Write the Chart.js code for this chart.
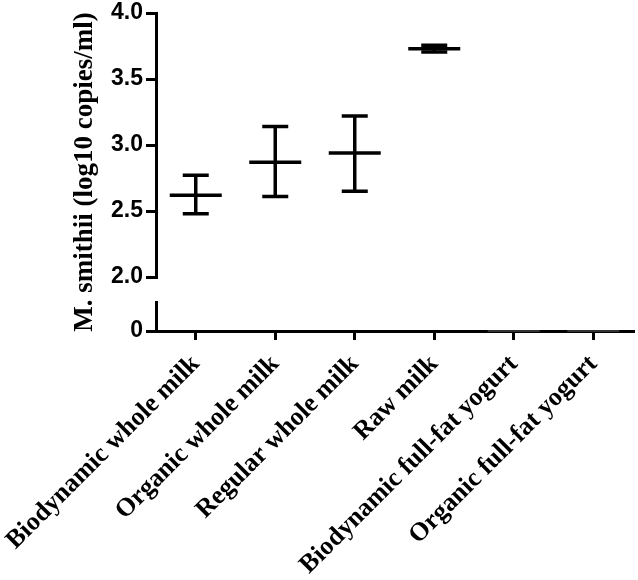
<!DOCTYPE html>
<html>
<head>
<meta charset="utf-8">
<script src="https://cdn.jsdelivr.net/npm/chart.js@4"></script>
<style>
  body { margin: 0; background: #fff; }
  #wrap { width: 638px; height: 580px; position: relative; }
</style>
</head>
<body>
<div id="wrap"><canvas id="chart"></canvas></div>
<script>
// categories on the x axis
const categories = [
  'Biodynamic whole milk',
  'Organic whole milk',
  'Regular whole milk',
  'Raw milk',
  'Biodynamic full-fat yogurt',
  'Organic full-fat yogurt',
];
// mean and error bar ends (log10 copies/ml)
const meanValues = [2.62, 2.87, 2.94, 3.73, 0, 0];
const upperValues = [2.77, 3.14, 3.22, 3.755, 0, 0];
const lowerValues = [2.48, 2.61, 2.65, 3.705, 0, 0];

// broken axis: upper segment and lower segment
const upperRange = [2, 4];
const lowerRange = [0, 1];
const upperTickStep = 0.5;

const black = '#000';
Chart.defaults.color = black;

// values above the break go on the upper axis, the rest on the lower one
function pick(arr, top) {
  return arr.map((v, i) => (meanValues[i] >= upperRange[0]) === top ? v : null);
}

const errorBars = {
  id: 'errorBars',
  afterDatasetsDraw(chart) {
    const ctx = chart.ctx;
    chart.data.datasets.forEach((ds, i) => {
      const meta = chart.getDatasetMeta(i);
      const yScale = chart.scales[ds.yAxisID];
      meta.data.forEach((pt, j) => {
        if (ds.data[j] == null) return;
        const x = pt.x;
        const yHi = yScale.getPixelForValue(ds.upper[j]);
        const yLo = yScale.getPixelForValue(ds.lower[j]);
        if (Math.abs(yHi - yLo) < 0.5) return;
        ctx.save();
        ctx.strokeStyle = black;
        ctx.lineWidth = 3.5;
        ctx.lineCap = 'butt';
        ctx.beginPath();
        ctx.moveTo(x, yHi);
        ctx.lineTo(x, yLo);
        ctx.moveTo(x - 13, yHi);
        ctx.lineTo(x + 13, yHi);
        ctx.moveTo(x - 13, yLo);
        ctx.lineTo(x + 13, yLo);
        ctx.stroke();
        ctx.restore();
      });
    });
  }
};

const tickFont = { family: 'Liberation Sans', weight: 'bold', size: 23 };
const labelFont = { family: 'Liberation Serif', weight: 'bold', size: 26 };
const titleFont = { family: 'Liberation Serif', weight: 'bold', size: 27 };

function axisGrid() {
  return {
    display: true,
    drawOnChartArea: false,
    drawTicks: true,
    tickLength: 10,
    lineWidth: 3,
    color: black,
  };
}

const ctx = document.getElementById('chart').getContext('2d');
const chart = new Chart(ctx, {
  type: 'line',
  data: {
    labels: categories,
    datasets: [
      {
        data: pick(meanValues, true),
        upper: pick(upperValues, true),
        lower: pick(lowerValues, true),
        yAxisID: 'y',
        showLine: false,
        pointStyle: 'line',
        pointRadius: 26,
        pointHoverRadius: 26,
        pointBorderWidth: 3.5,
        pointHoverBorderWidth: 3.5,
        borderColor: black,
        backgroundColor: black,
        clip: false,
      },
      {
        data: pick(meanValues, false),
        upper: pick(upperValues, false),
        lower: pick(lowerValues, false),
        yAxisID: 'y0',
        showLine: false,
        pointStyle: 'line',
        pointRadius: 26,
        pointHoverRadius: 26,
        pointBorderWidth: 2,
        pointHoverBorderWidth: 2,
        borderColor: '#333',
        backgroundColor: '#333',
        clip: false,
      },
    ],
  },
  options: {
    responsive: true,
    maintainAspectRatio: false,
    animation: false,
    events: [],
    layout: { autoPadding: false, padding: { top: 0, right: 5, bottom: 0, left: 0 } },
    plugins: {
      legend: { display: false },
      tooltip: { enabled: false },
    },
    scales: {
      x: {
        type: 'category',
        offset: true,
        grid: Object.assign(axisGrid(), { offset: false, tickLength: 9 }),
        border: { display: true, color: black, width: 3 },
        ticks: {
          font: labelFont,
          color: black,
          minRotation: 45,
          maxRotation: 45,
          autoSkip: false,
          padding: 9,
        },
        afterFit: (s) => { s.height = 249; s.paddingLeft = 0; s.paddingRight = 0; },
      },
      // axis that only carries the title, spanning the full height
      yt: {
        position: 'left',
        weight: 10,
        min: 0,
        max: 1,
        grid: { display: false },
        border: { display: false },
        ticks: { display: false },
        title: {
          display: true,
          text: 'M. smithii (log10 copies/ml)',
          font: titleFont,
          color: black,
          padding: { top: 69, bottom: 0 },
        },
        afterFit: (s) => { s.width = 101; },
      },
      y: {
        position: 'left',
        stack: 'brk',
        stackWeight: 264,
        weight: 3,
        min: upperRange[0],
        max: upperRange[1],
        grid: axisGrid(),
        border: { display: true, color: black, width: 3 },
        ticks: {
          stepSize: upperTickStep,
          font: tickFont,
          color: black,
          padding: 3,
          callback: (v) => v.toFixed(1),
        },
        afterFit: (s) => { s.width = 55; s.paddingTop = 13; s.paddingBottom = 0; },
      },
      yg: {
        position: 'left',
        stack: 'brk',
        stackWeight: 25,
        weight: 2,
        display: false,
        min: 0,
        max: 1,
        afterFit: (s) => { s.width = 55; },
      },
      y0: {
        position: 'left',
        stack: 'brk',
        stackWeight: 29,
        weight: 1,
        min: lowerRange[0],
        max: lowerRange[1],
        grid: axisGrid(),
        border: { display: true, color: black, width: 3 },
        ticks: {
          stepSize: 1,
          font: tickFont,
          color: black,
          padding: 3,
          callback: (v) => (v === 0 ? '0' : ''),
        },
        afterFit: (s) => { s.width = 55; s.paddingTop = 0; s.paddingBottom = 0; },
      },
    },
  },
  plugins: [errorBars],
});
</script>
</body>
</html>
